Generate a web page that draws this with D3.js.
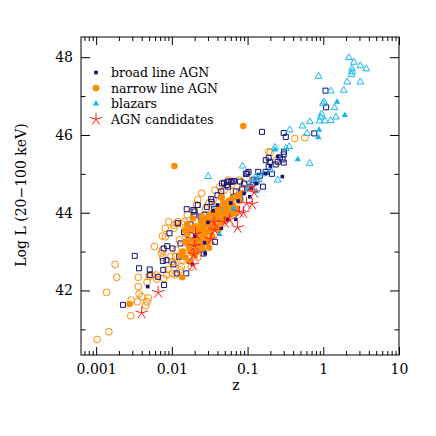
<!DOCTYPE html>
<html>
<head>
<meta charset="utf-8">
<script src="https://cdn.jsdelivr.net/npm/d3@7"></script>
<style>
  body { margin: 0; background: #fff; }
  svg { display: block; }
  .tick-label { font-family: "DejaVu Serif", serif; font-size: 14px; fill: #000; }
  .legend-label { font-family: "DejaVu Serif", serif; font-size: 12.5px; fill: #000; }
</style>
</head>
<body>
<svg width="436" height="436"></svg>
<script>
// [z, log L] pairs
var broadOpen = [
  [0.00226, 41.63], [0.00323, 42.89], [0.00368, 42.57], [0.0051, 42.54], [0.0051, 42.4],
  [0.0066, 42.35], [0.0079, 42.14], [0.0076, 42.76], [0.0077, 42.53], [0.0087, 43.14],
  [0.0093, 43.47], [0.0085, 42.78], [0.0078, 43.08], [0.0102, 43.08], [0.0105, 42.67],
  [0.0116, 42.44], [0.0125, 42.87], [0.0155, 42.44], [0.0157, 44.09], [0.0193, 44.07],
  [0.0198, 43.94], [0.013, 43.21], [0.012, 43.73], [0.0167, 43.3], [0.02, 44.03],
  [0.024, 43.9], [0.029, 44.15], [0.0335, 44.28], [0.033, 44.35], [0.037, 43.25],
  [0.0263, 42.95], [0.046, 44.75], [0.049, 44.77], [0.055, 44.67], [0.0546, 44.8],
  [0.063, 44.8], [0.066, 44.82], [0.053, 44.71], [0.06, 44.8], [0.079, 44.8],
  [0.095, 45.0], [0.099, 45.01], [0.103, 45.05], [0.107, 44.67], [0.131, 44.8],
  [0.138, 45.05], [0.145, 44.95], [0.16, 44.67], [0.174, 45.05], [0.174, 45.35],
  [0.19, 45.18], [0.19, 45.41], [0.197, 45.31], [0.235, 45.24], [0.25, 45.31],
  [0.267, 45.42], [0.29, 45.37], [0.30, 45.29], [0.30, 45.5], [0.303, 45.57],
  [0.30, 46.05], [0.32, 45.95], [0.155, 46.08], [0.76, 46.04], [1.07, 47.14],
  [1.09, 46.71], [0.0145, 43.5], [0.0175, 43.7], [0.022, 44.2], [0.027, 43.95],
  [0.04, 44.45], [0.07, 44.55], [0.085, 44.6], [0.12, 44.85], [0.21, 45.0], [0.0415, 44.0],
  [0.028, 43.6], [0.04, 43.85], [0.05, 44.1], [0.065, 44.4], [0.018, 43.2],
  [0.023, 43.1], [0.036, 44.1], [0.045, 44.55], [0.08, 44.35], [0.09, 44.75]
];
var broadFilled = [
  [0.0048, 42.1], [0.0275, 42.95], [0.288, 44.93], [0.0188, 42.67], [0.07, 43.83],
  [0.107, 44.41], [0.11, 44.63], [0.027, 43.23], [0.055, 43.83], [0.174, 45.01],
  [0.04, 44.2], [0.035, 44.05], [0.06, 44.25], [0.075, 44.3], [0.09, 44.5],
  [0.02, 43.4], [0.03, 43.75], [0.2, 45.2], [0.25, 45.45], [0.13, 44.75], [0.045, 43.6]
];
var narrowOpen = [
  [0.00103, 40.74], [0.00147, 40.94], [0.00137, 41.95], [0.00178, 42.67], [0.00187, 42.34],
  [0.00286, 41.35], [0.0029, 41.75], [0.0036, 42.34], [0.0036, 42.1], [0.0037, 41.91],
  [0.0035, 41.71], [0.0045, 41.61], [0.0049, 41.81], [0.0047, 41.71], [0.004, 41.84],
  [0.0047, 42.21], [0.005, 42.36], [0.0054, 42.4], [0.0063, 42.29], [0.0059, 43.13],
  [0.0062, 42.4], [0.0076, 42.85], [0.0073, 42.96], [0.0075, 43.04], [0.0075, 43.4],
  [0.0082, 43.38], [0.0082, 43.6], [0.0078, 42.31], [0.0085, 42.4], [0.0089, 42.54],
  [0.0097, 42.87], [0.01, 42.74], [0.011, 42.7], [0.0112, 42.87], [0.0101, 42.44],
  [0.011, 42.4], [0.0128, 42.53], [0.0114, 43.04], [0.0107, 43.68], [0.0116, 43.72],
  [0.0126, 43.3], [0.0133, 42.61], [0.014, 42.78], [0.0135, 43.71], [0.0147, 43.77],
  [0.0149, 43.47], [0.0154, 42.95], [0.0091, 43.77], [0.012, 43.77], [0.0107, 43.6],
  [0.0219, 44.33], [0.0247, 44.5], [0.0212, 44.2], [0.037, 44.58], [0.043, 44.67],
  [0.035, 44.33], [0.0557, 44.84], [0.063, 44.74], [0.097, 44.87], [0.085, 44.64],
  [0.078, 44.84], [0.057, 44.8], [0.049, 44.58], [0.19, 45.57], [0.2, 45.55],
  [0.24, 45.35], [0.42, 45.91], [0.57, 45.93], [0.017, 42.9], [0.018, 42.6],
  [0.022, 42.85], [0.025, 43.05], [0.016, 43.95], [0.019, 44.05], [0.028, 44.1],
  [0.031, 44.25], [0.045, 44.4], [0.065, 44.55], [0.11, 44.65], [0.07, 44.0],
  [0.045, 43.7], [0.03, 43.35]
];
var narrowFilled = [
  [0.0108, 45.2], [0.0877, 46.23], [0.00277, 41.65], [0.0137, 42.34],
  [0.014, 43.0], [0.015, 43.25], [0.015, 42.85], [0.016, 43.45], [0.017, 43.1],
  [0.017, 42.75], [0.018, 43.3], [0.018, 43.55], [0.019, 42.95], [0.02, 43.2],
  [0.02, 43.65], [0.021, 43.4], [0.022, 43.05], [0.022, 43.55], [0.023, 43.3],
  [0.024, 43.75], [0.025, 43.45], [0.025, 43.1], [0.026, 43.6], [0.027, 43.35],
  [0.028, 43.85], [0.029, 43.5], [0.03, 43.25], [0.03, 43.7], [0.032, 43.95],
  [0.033, 43.55], [0.034, 43.4], [0.035, 43.8], [0.037, 44.05], [0.038, 43.65],
  [0.04, 43.9], [0.042, 44.15], [0.044, 43.75], [0.046, 44.0], [0.048, 44.25],
  [0.05, 43.85], [0.053, 44.1], [0.056, 44.3], [0.06, 43.95], [0.064, 44.2],
  [0.068, 44.4], [0.072, 44.1], [0.078, 44.3], [0.085, 44.5], [0.013, 42.9],
  [0.016, 43.7], [0.019, 43.85], [0.045, 44.4],
  [0.016, 43.2], [0.018, 43.0], [0.021, 43.0], [0.023, 43.6], [0.024, 43.25],
  [0.026, 43.2], [0.027, 43.7], [0.029, 43.3], [0.031, 43.5], [0.033, 43.8],
  [0.036, 43.6], [0.039, 43.85], [0.041, 43.55], [0.043, 44.0], [0.047, 43.8],
  [0.052, 44.0], [0.055, 44.15], [0.058, 44.05], [0.062, 44.35], [0.02, 42.9],
  [0.022, 43.3], [0.035, 44.0], [0.05, 44.2], [0.066, 44.0], [0.015, 43.55],
  [0.025, 43.9], [0.031, 43.1], [0.075, 44.45]
];
var blazarOpen = [
  [2.18, 47.99], [2.54, 47.87], [3.09, 47.78], [3.7, 47.7], [2.39, 47.7],
  [2.39, 47.62], [2.35, 47.55], [0.867, 47.51], [2.07, 47.36], [3.09, 47.36],
  [1.86, 47.15], [1.26, 47.13], [1.02, 46.85], [0.99, 46.8], [1.41, 46.7],
  [0.95, 46.54], [0.93, 46.46], [1.47, 46.46], [0.89, 46.36], [1.05, 46.36],
  [1.25, 46.37], [0.665, 46.34], [0.53, 46.23], [0.36, 46.13], [0.61, 46.04],
  [0.355, 45.7], [0.23, 45.68], [0.32, 45.65], [0.086, 45.2], [0.0302, 44.93],
  [0.25, 44.84], [0.66, 45.27], [0.128, 44.93], [0.116, 44.75], [0.105, 44.75],
  [0.078, 44.45], [0.045, 44.15], [0.06, 44.3], [0.14, 44.85], [0.05, 43.95],
  [0.035, 44.05], [0.16, 45.0], [0.2, 45.1]
];
var blazarFilled = [
  [1.52, 46.85], [1.93, 46.51], [0.88, 46.13], [0.86, 45.94], [0.46, 45.37],
  [0.0424, 43.45], [0.1, 44.6], [0.13, 44.55], [0.065, 44.1], [0.23, 45.62]
];
var candidates = [
  [0.004, 41.42], [0.0066, 41.95], [0.019, 42.66], [0.0195, 42.93], [0.020, 43.15],
  [0.0205, 43.45], [0.033, 43.32], [0.037, 43.55], [0.036, 43.75], [0.050, 43.75],
  [0.058, 43.82], [0.074, 43.62], [0.078, 44.02], [0.088, 44.0], [0.097, 44.24],
  [0.115, 44.22], [0.122, 44.52], [0.108, 44.65]
];
var xTickValues = [0.001, 0.01, 0.1, 1, 10];
var xTickLabels = ['0.001', '0.01', '0.1', '1', '10'];
var yTickValues = [42, 44, 46, 48];
var yMinorValues = [41, 43, 45, 47];
var legendLabels = ['broad line AGN', 'narrow line AGN', 'blazars', 'AGN candidates'];

var navy = '#12127e', orange = '#ff8c00', cyan = '#14b8f0', red = '#ff1a1a';

var margin = {top: 37, right: 37, bottom: 81, left: 81};
var svg = d3.select('svg');
var width = 436 - margin.left - margin.right;
var height = 436 - margin.top - margin.bottom;
var g = svg.append('g').attr('transform', 'translate(' + margin.left + ',' + margin.top + ')');

var x = d3.scaleLog().domain([Math.pow(10, -3.2), 10]).range([0, width]);
var y = d3.scaleLinear().domain([40.34, 48.52]).range([height, 0]);

// minor log ticks
var xMinor = [];
for (var k = -4; k <= 0; k++) {
  for (var m = 2; m <= 9; m++) {
    var v = m * Math.pow(10, k);
    if (v >= x.domain()[0] && v <= x.domain()[1]) xMinor.push(v);
  }
}

function cleanAxis(sel) {
  sel.select('.domain').remove();
  sel.selectAll('line').attr('stroke', '#000').attr('stroke-width', 1);
}

g.append('g').attr('transform', 'translate(0,' + height + ')')
  .call(d3.axisBottom(x).tickValues(xTickValues).tickSize(-8).tickSizeOuter(0)
    .tickPadding(9).tickFormat(function (d, i) { return xTickLabels[i]; }))
  .call(cleanAxis)
  .selectAll('text').attr('class', 'tick-label');
g.append('g').attr('transform', 'translate(0,' + height + ')')
  .call(d3.axisBottom(x).tickValues(xMinor).tickSize(-4).tickFormat(''))
  .call(cleanAxis);
g.append('g')
  .call(d3.axisTop(x).tickValues(xTickValues).tickSize(-8).tickFormat(''))
  .call(cleanAxis);
g.append('g')
  .call(d3.axisTop(x).tickValues(xMinor).tickSize(-4).tickFormat(''))
  .call(cleanAxis);

g.append('g')
  .call(d3.axisLeft(y).tickValues(yTickValues).tickSize(-9).tickPadding(8).tickFormat(d3.format('d')))
  .call(cleanAxis)
  .selectAll('text').attr('class', 'tick-label');
g.append('g')
  .call(d3.axisLeft(y).tickValues(yMinorValues).tickSize(-4.5).tickFormat(''))
  .call(cleanAxis);
g.append('g').attr('transform', 'translate(' + width + ',0)')
  .call(d3.axisRight(y).tickValues(yTickValues).tickSize(-9).tickFormat(''))
  .call(cleanAxis);
g.append('g').attr('transform', 'translate(' + width + ',0)')
  .call(d3.axisRight(y).tickValues(yMinorValues).tickSize(-4.5).tickFormat(''))
  .call(cleanAxis);

g.append('rect').attr('width', width).attr('height', height)
  .attr('fill', 'none').attr('stroke', '#000').attr('stroke-width', 1);

// axis titles
svg.append('text').attr('class', 'tick-label')
  .attr('x', margin.left + width / 2 - 4).attr('y', 390)
  .attr('text-anchor', 'middle').text('z');
svg.append('text').attr('class', 'tick-label')
  .attr('transform', 'translate(26,' + (margin.top + 158) + ') rotate(-90)')
  .attr('text-anchor', 'middle').text('Log L (20\u2212100 keV)');

// markers
var plot = g.append('g');
function sym(type, size) { return d3.symbol().type(type).size(size)(); }
function starPath(r) {
  var p = '';
  for (var i = 0; i < 5; i++) {
    var a = i * 2 * Math.PI / 5;
    p += 'M0,0L' + (r * Math.sin(a)).toFixed(2) + ',' + (-r * Math.cos(a)).toFixed(2);
  }
  return p;
}
function drawSet(data, path, fill, stroke) {
  plot.append('g').selectAll('path').data(data).enter().append('path')
    .attr('d', path)
    .attr('transform', function (d) { return 'translate(' + x(d[0]) + ',' + y(d[1]) + ')'; })
    .attr('fill', fill).attr('stroke', stroke).attr('stroke-width', 1);
}
var openSquare = sym(d3.symbolSquare, 25);
var smallSquare = sym(d3.symbolSquare, 13);
var openTri = sym(d3.symbolTriangle, 20);
var fillTri = sym(d3.symbolTriangle, 18);

drawSet(narrowOpen, sym(d3.symbolCircle, 36), 'none', orange);
drawSet(broadOpen, openSquare, 'none', navy);
drawSet(blazarOpen, openTri, 'none', cyan);
drawSet(narrowFilled, sym(d3.symbolCircle, 34), orange, 'none');
drawSet(broadFilled, smallSquare, navy, 'none');
drawSet(blazarFilled, fillTri, cyan, 'none');
drawSet(candidates, starPath(6.5), 'none', red);

// legend
var legendMarks = [
  {path: smallSquare, fill: navy, stroke: 'none'},
  {path: sym(d3.symbolCircle, 34), fill: orange, stroke: 'none'},
  {path: fillTri, fill: cyan, stroke: 'none'},
  {path: starPath(6.5), fill: 'none', stroke: red}
];
var legend = svg.append('g');
legendLabels.forEach(function (label, i) {
  var ly = 72.5 + i * 15.6;
  legend.append('path').attr('d', legendMarks[i].path)
    .attr('transform', 'translate(96,' + ly + ')')
    .attr('fill', legendMarks[i].fill).attr('stroke', legendMarks[i].stroke);
  legend.append('text').attr('class', 'legend-label')
    .attr('x', 111).attr('y', ly + 4.5).text(label);
});
</script>
</body>
</html>
